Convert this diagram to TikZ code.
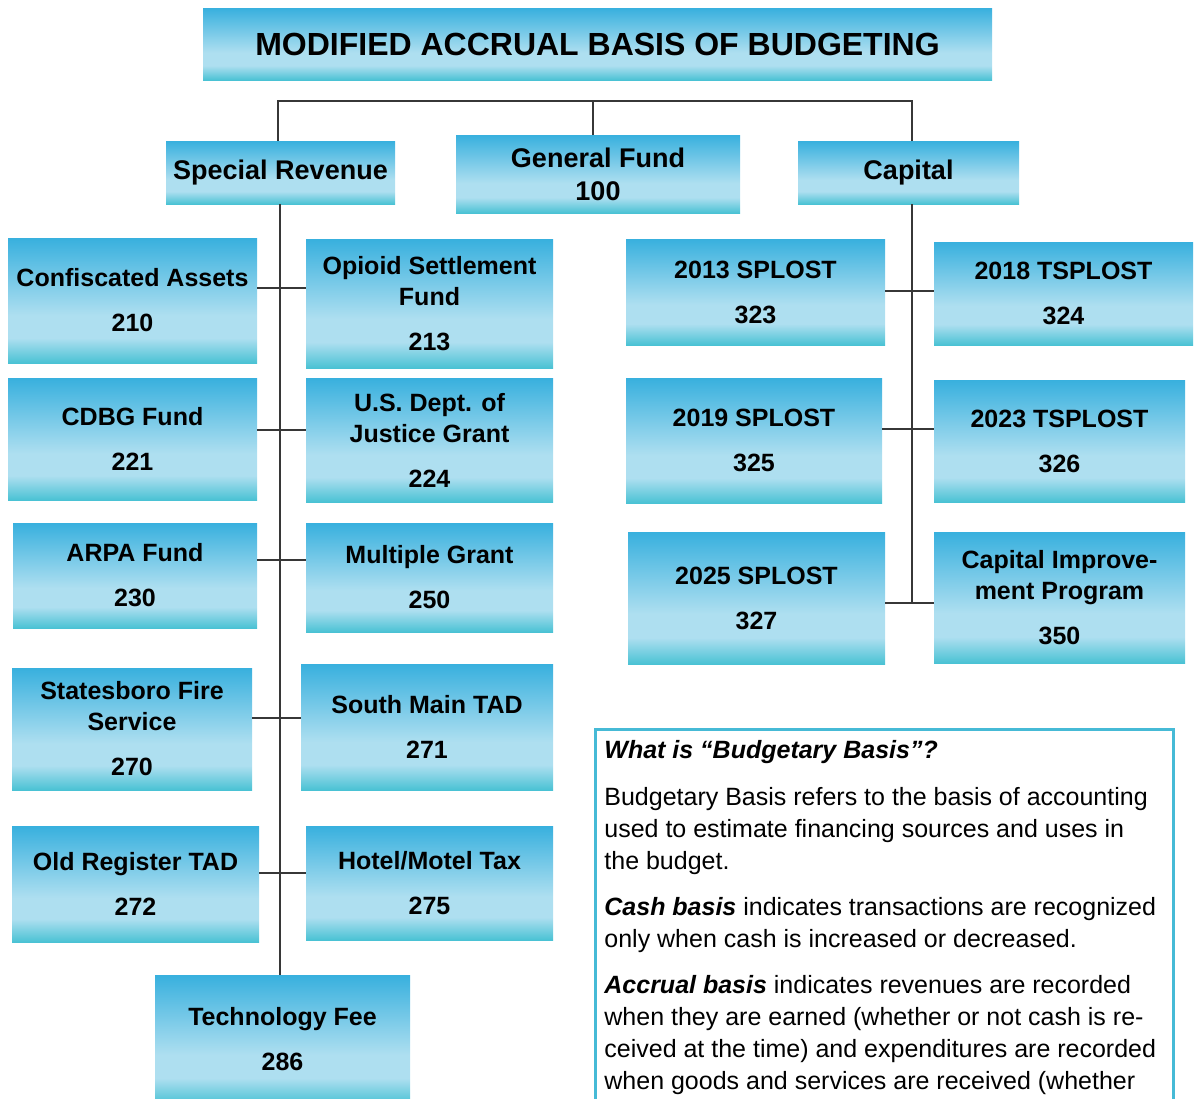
\documentclass[tikz,border=0pt]{standalone}
\usepackage{fontspec}
\setmainfont{Liberation Sans}
\definecolor{ctop}{RGB}{56,176,222}
\definecolor{cmid}{RGB}{174,223,240}
\definecolor{cbot}{RGB}{74,194,212}
\definecolor{infoblue}{RGB}{70,186,214}
\definecolor{linegray}{RGB}{55,55,55}
\pgfdeclareverticalshading{boxgrad}{100bp}{color(0bp)=(cbot); color(25bp)=(cbot); color(35bp)=(cmid); color(44bp)=(cmid); color(75bp)=(ctop); color(100bp)=(ctop)}
\newcommand\mkbox[7]{\node[#6, minimum width={(#4-#2)*0.5pt}, minimum height={(#5-#3)*0.5pt}] (#1) at ({(#2+#4)/2},{(#3+#5)/2}) {#7};}
\begin{document}
\begin{tikzpicture}[x=0.5pt,y=-0.5pt,
  bx/.style={shade, shading=boxgrad, inner sep=0pt, align=center, text=black,
    font=\bfseries\fontsize{12.5}{15.5}\selectfont},
  hd/.style={bx, font=\bfseries\fontsize{13.5}{16.5}\selectfont},
  ttl/.style={bx, font=\bfseries\fontsize{16}{19}\selectfont},
  ln/.style={draw=linegray, line width=1pt}]
\useasboundingbox (0,0) rectangle (1196,1099);
\clip (0,0) rectangle (1196,1099);
% title and headers
\mkbox{title}{203}{8}{992}{80}{ttl}{MODIFIED ACCRUAL BASIS OF BUDGETING}
\mkbox{sr}{166}{141}{395}{204}{hd}{Special Revenue}
\mkbox{gf}{456}{135}{740}{213}{hd}{General Fund\\100}
\mkbox{cap}{798}{141}{1019}{204}{hd}{Capital}
% special revenue children
\mkbox{conf}{8}{238}{257}{363}{bx}{Confiscated Assets\\[7pt]210}
\mkbox{opi}{306}{239}{553}{368}{bx}{Opioid Settlement\\Fund\\[7pt]213}
\mkbox{cdbg}{8}{378}{257}{500}{bx}{CDBG Fund\\[7pt]221}
\mkbox{doj}{306}{378}{553}{502}{bx}{U.S. Dept. of\\Justice Grant\\[7pt]224}
\mkbox{arpa}{13}{523}{257}{628}{bx}{ARPA Fund\\[7pt]230}
\mkbox{mult}{306}{523}{553}{632}{bx}{Multiple Grant\\[7pt]250}
\mkbox{fire}{12}{668}{252}{790}{bx}{Statesboro Fire\\Service\\[7pt]270}
\mkbox{smt}{301}{664}{553}{790}{bx}{South Main TAD\\[7pt]271}
\mkbox{ort}{12}{826}{259}{942}{bx}{Old Register TAD\\[7pt]272}
\mkbox{hmt}{306}{826}{553}{940}{bx}{Hotel/Motel Tax\\[7pt]275}
\mkbox{tech}{155}{975}{410}{1104}{bx}{Technology Fee\\[7pt]286}
% capital children
\mkbox{s13}{626}{239}{885}{345}{bx}{2013 SPLOST\\[7pt]323}
\mkbox{t18}{934}{242}{1193}{345}{bx}{2018 TSPLOST\\[7pt]324}
\mkbox{s19}{626}{378}{882}{503}{bx}{2019 SPLOST\\[7pt]325}
\mkbox{t23}{934}{380}{1185}{502}{bx}{2023 TSPLOST\\[7pt]326}
\mkbox{s25}{628}{532}{885}{664}{bx}{2025 SPLOST\\[7pt]327}
\mkbox{cip}{934}{532}{1185}{663}{bx}{Capital Improve-\\ment Program\\[7pt]350}
% connector coordinates
\coordinate (bar) at (593,101);
\coordinate (srx) at (278,0);
\coordinate (capx) at (912,0);
\coordinate (j1) at (280,288);
\coordinate (j2) at (280,430);
\coordinate (j3) at (280,560);
\coordinate (j4) at (280,718);
\coordinate (j5) at (280,873);
\coordinate (k1) at (912,291);
\coordinate (k2) at (912,429);
\coordinate (k3) at (912,603);
% top bar
\draw[ln] (srx |- sr.north) -- (srx |- bar) -- (capx |- bar) -- (capx |- cap.north);
\draw[ln] (bar |- gf.north) -- (bar);
% trunks
\draw[ln] (j1 |- sr.south) -- (j1 |- tech.north);
\draw[ln] (capx |- cap.south) -- (k3);
% branches
\draw[ln] (j1 -| conf.east) -- (j1 -| opi.west);
\draw[ln] (j2 -| cdbg.east) -- (j2 -| doj.west);
\draw[ln] (j3 -| arpa.east) -- (j3 -| mult.west);
\draw[ln] (j4 -| fire.east) -- (j4 -| smt.west);
\draw[ln] (j5 -| ort.east) -- (j5 -| hmt.west);
\draw[ln] (k1 -| s13.east) -- (k1 -| t18.west);
\draw[ln] (k2 -| s19.east) -- (k2 -| t23.west);
\draw[ln] (k3 -| s25.east) -- (k3 -| cip.west);
% info box
\node[draw=infoblue, line width=1.3pt, anchor=north west, inner sep=0pt,
  minimum width=289pt, minimum height=200pt] (info) at (594,728) {};
\node[anchor=north west, inner sep=0pt, align=left,
  font=\fontsize{12.5}{16}\selectfont] (infotxt) at (604,740)
{\textbf{\textit{What is “Budgetary Basis”?}}\\[7.5pt]
Budgetary Basis refers to the basis of accounting\\
used to estimate financing sources and uses in\\
the budget.\\[7pt]
\textbf{\textit{Cash basis}} indicates transactions are recognized\\
only when cash is increased or decreased.\\[7pt]
\textbf{\textit{Accrual basis}} indicates revenues are recorded\\
when they are earned (whether or not cash is re-\\
ceived at the time) and expenditures are recorded\\
when goods and services are received (whether};
\end{tikzpicture}
\end{document}
